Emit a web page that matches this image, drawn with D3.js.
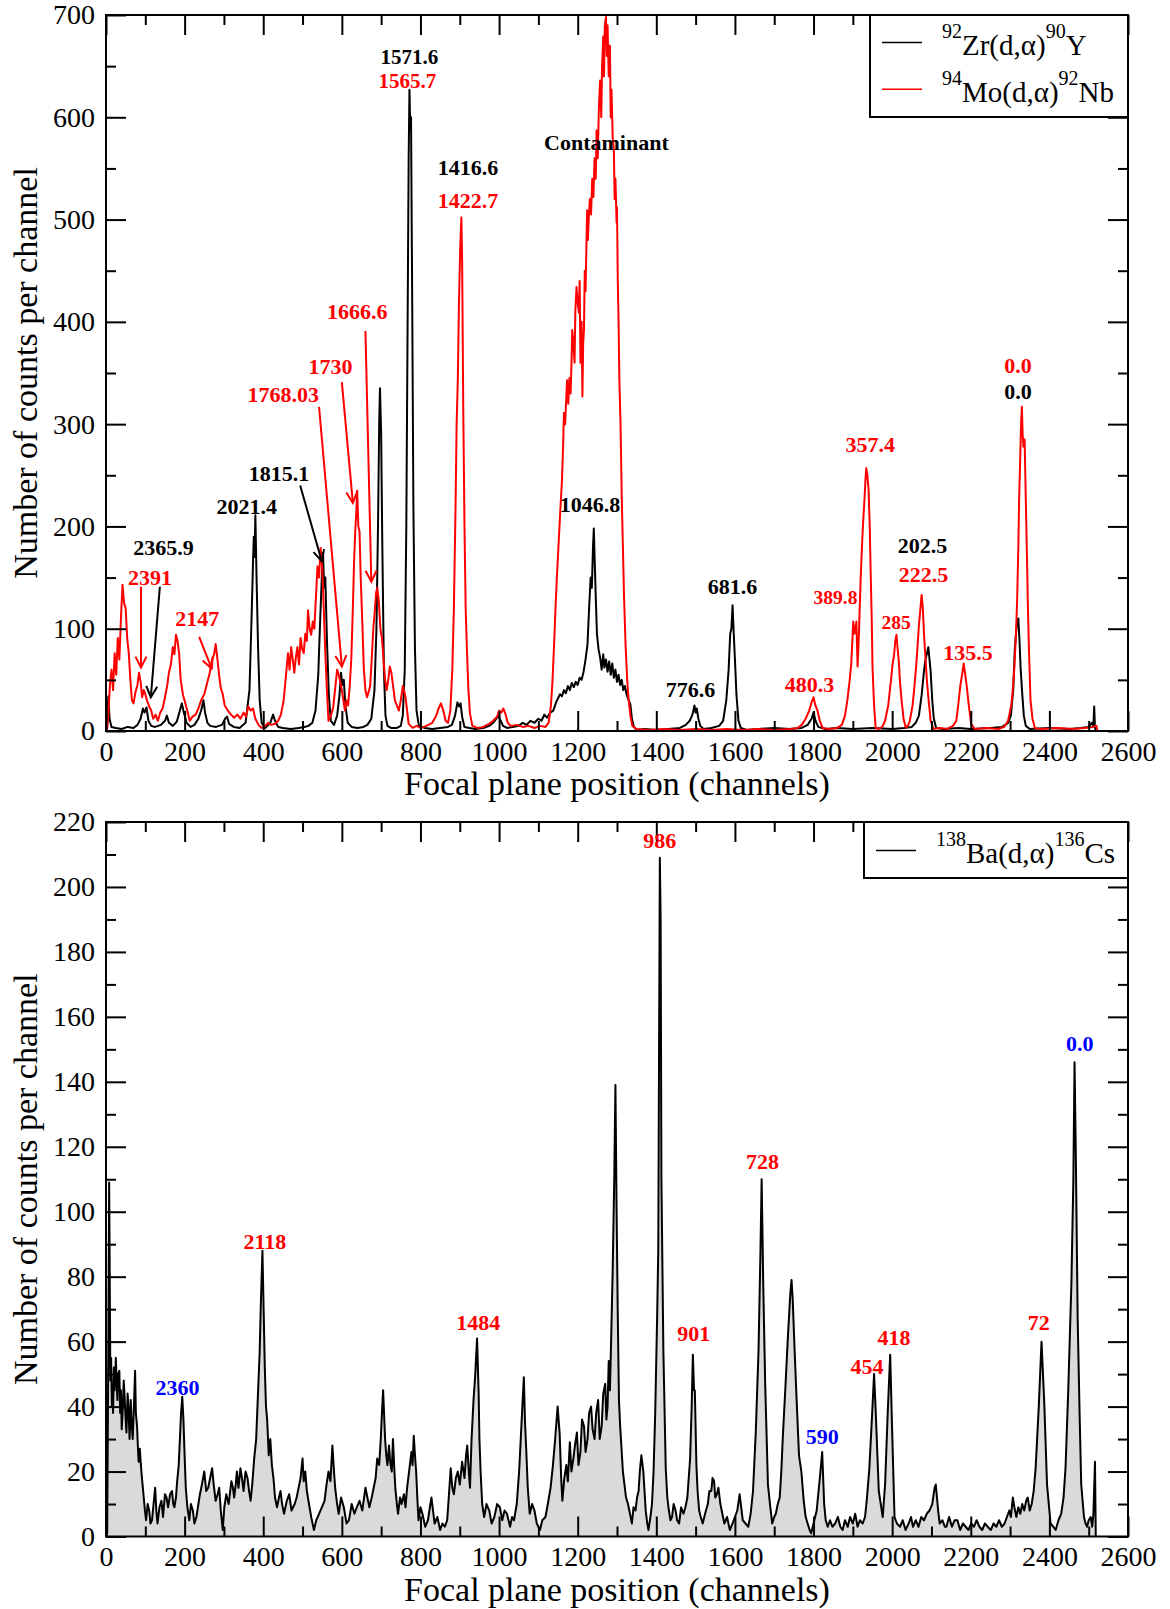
<!DOCTYPE html>
<html>
<head>
<meta charset="utf-8">
<script src="https://d3js.org/d3.v7.min.js"></script>
<style>
  body { margin: 0; background: #fff; }
  svg { display: block; }
</style>
</head>
<body>
<script>
// spectra: [channel, counts]
var zrSpectrum = [[0,0],[3,8],[6,34],[9,12],[14,4],[25,3],[40,2],[55,4],[70,3],[80,6],[88,12],[94,22],[98,18],[103,23],[108,10],[115,5],[125,4],[140,6],[150,10],[155,15],[160,8],[170,5],[180,9],[188,20],[193,27],[198,18],[205,8],[215,4],[225,6],[235,12],[242,20],[248,30],[252,18],[258,8],[265,5],[280,4],[295,6],[303,12],[308,14],[313,7],[325,4],[340,3],[355,8],[365,40],[371,120],[374,165],[376,190],[378,170],[380,211],[383,150],[387,80],[391,30],[396,8],[405,3],[418,8],[425,16],[430,10],[438,4],[450,3],[470,2],[490,3],[505,4],[515,5],[525,8],[533,20],[540,55],[545,110],[549,150],[552,174],[555,140],[558,150],[562,90],[567,35],[572,10],[580,6],[588,15],[594,35],[598,57],[601,45],[605,50],[609,25],[615,8],[625,4],[640,3],[655,4],[665,6],[675,12],[683,40],[688,100],[692,200],[695,300],[697,335],[700,290],[703,180],[707,60],[711,15],[716,5],[725,3],[740,3],[750,5],[755,15],[760,60],[764,200],[767,380],[770,560],[772,627],[774,590],[776,600],[779,420],[782,220],[786,80],[790,20],[796,5],[810,3],[830,2],[850,3],[870,4],[880,6],[888,15],[894,28],[898,24],[902,27],[906,14],[912,4],[925,3],[940,2],[960,3],[975,5],[985,8],[993,12],[998,15],[1004,10],[1010,5],[1020,3],[1035,4],[1050,5],[1060,8],[1070,6],[1080,10],[1090,8],[1100,12],[1108,10],[1115,16],[1122,13],[1130,18],[1138,20],[1145,28],[1150,32],[1155,36],[1160,34],[1165,40],[1170,37],[1175,44],[1180,40],[1185,47],[1190,43],[1195,48],[1200,45],[1205,52],[1210,50],[1215,58],[1220,70],[1225,85],[1229,120],[1233,150],[1236,140],[1239,180],[1241,198],[1243,170],[1246,130],[1249,95],[1253,80],[1257,72],[1261,60],[1265,75],[1268,62],[1272,70],[1276,58],[1280,68],[1284,55],[1288,66],[1292,52],[1296,60],[1300,48],[1304,55],[1308,45],[1312,50],[1316,40],[1320,44],[1325,35],[1330,30],[1334,26],[1338,12],[1343,4],[1350,1],[1370,2],[1400,1],[1430,2],[1460,3],[1475,6],[1485,10],[1492,16],[1497,25],[1500,18],[1503,22],[1507,12],[1512,5],[1520,2],[1540,3],[1560,5],[1570,10],[1578,30],[1584,60],[1588,95],[1591,100],[1594,123],[1597,95],[1600,70],[1604,35],[1609,10],[1615,3],[1630,1],[1660,2],[1700,3],[1740,2],[1770,3],[1785,6],[1795,12],[1800,18],[1805,10],[1812,4],[1830,2],[1860,3],[1900,2],[1950,3],[2000,2],[2030,3],[2050,4],[2060,8],[2068,15],[2075,35],[2080,55],[2084,68],[2088,75],[2092,82],[2095,70],[2098,58],[2102,30],[2106,12],[2112,3],[2130,2],[2170,3],[2200,2],[2250,3],[2280,4],[2295,8],[2302,15],[2308,40],[2312,80],[2315,95],[2318,108],[2321,110],[2324,88],[2327,60],[2331,36],[2335,15],[2340,5],[2350,2],[2400,3],[2450,2],[2480,3],[2500,4],[2508,8],[2512,5],[2514,24],[2516,3],[2520,0]];

var moSpectrum = [[2,0],[5,10],[10,45],[14,60],[18,40],[22,76],[26,55],[30,91],[34,70],[38,110],[42,143],[46,125],[50,120],[54,90],[58,76],[62,50],[66,30],[70,27],[75,38],[80,45],[84,57],[88,48],[92,33],[96,40],[100,36],[104,30],[110,24],[115,20],[120,12],[126,16],[132,10],[138,18],[144,22],[150,33],[156,45],[160,57],[165,65],[170,82],[174,75],[178,94],[182,88],[186,76],[190,50],[196,35],[202,27],[208,18],[213,10],[220,14],[228,16],[235,22],[242,30],[250,36],[258,48],[264,57],[270,70],[275,75],[279,85],[283,72],[287,57],[292,42],[297,36],[302,25],[310,20],[318,16],[326,13],[334,16],[342,12],[350,18],[356,14],[362,24],[368,20],[374,22],[380,12],[388,6],[396,3],[405,5],[412,8],[420,6],[430,7],[438,10],[445,16],[452,30],[458,55],[463,76],[467,60],[471,82],[475,70],[479,57],[483,72],[487,82],[491,65],[495,91],[499,80],[503,76],[507,95],[511,88],[514,118],[518,100],[522,94],[526,107],[530,100],[534,130],[538,161],[542,150],[546,179],[550,160],[554,120],[558,76],[562,40],[566,10],[572,15],[578,23],[584,45],[588,60],[592,55],[596,48],[600,40],[604,30],[608,20],[612,30],[616,25],[620,44],[624,70],[628,120],[631,164],[634,195],[637,215],[639,235],[642,200],[645,195],[648,150],[652,107],[656,60],[660,40],[664,33],[668,38],[672,44],[676,70],[680,100],[684,118],[687,135],[690,140],[694,127],[698,100],[702,91],[706,70],[710,50],[714,40],[718,50],[722,63],[726,57],[730,45],[735,30],[740,25],[745,20],[750,30],[755,44],[758,40],[762,33],[766,20],[770,7],[780,3],[790,5],[800,3],[815,5],[830,8],[840,15],[846,22],[852,27],[858,20],[864,10],[870,8],[876,20],[881,60],[885,120],[889,213],[892,300],[895,343],[898,420],[901,470],[904,502],[906,460],[909,311],[912,200],[915,120],[918,82],[922,40],[926,17],[932,5],[945,3],[960,4],[975,7],[985,10],[995,14],[1000,20],[1006,18],[1011,22],[1016,17],[1022,8],[1030,5],[1045,6],[1060,4],[1075,5],[1090,3],[1105,5],[1118,4],[1126,8],[1132,25],[1136,50],[1140,85],[1143,115],[1147,150],[1151,180],[1155,210],[1160,245],[1163,280],[1165,311],[1168,300],[1171,326],[1173,343],[1176,320],[1179,345],[1182,330],[1185,370],[1186,392],[1189,380],[1192,360],[1194,410],[1197,434],[1200,420],[1203,409],[1205,440],[1207,360],[1210,400],[1212,327],[1214,380],[1216,392],[1218,450],[1220,430],[1222,470],[1224,509],[1226,480],[1228,500],[1231,520],[1234,505],[1237,540],[1240,522],[1243,560],[1246,540],[1248,587],[1251,560],[1254,610],[1257,636],[1260,600],[1262,650],[1265,679],[1267,640],[1269,690],[1272,698],[1274,660],[1276,690],[1279,640],[1282,670],[1284,600],[1286,627],[1289,580],[1292,568],[1294,520],[1296,540],[1299,497],[1300,512],[1302,440],[1304,400],[1306,343],[1309,300],[1312,230],[1315,180],[1318,130],[1322,82],[1326,50],[1329,33],[1334,15],[1339,5],[1350,2],[1380,1],[1420,2],[1460,1],[1500,2],[1540,1],[1580,2],[1620,1],[1660,2],[1700,1],[1740,2],[1760,3],[1770,6],[1780,12],[1789,20],[1795,28],[1800,33],[1804,26],[1810,20],[1816,10],[1823,3],[1840,2],[1860,3],[1872,6],[1880,15],[1886,30],[1892,50],[1896,66],[1899,90],[1901,107],[1904,95],[1907,100],[1909,107],[1912,63],[1915,90],[1917,115],[1920,150],[1924,187],[1927,210],[1930,229],[1932,245],[1934,257],[1937,250],[1940,236],[1943,200],[1945,161],[1948,110],[1950,63],[1954,25],[1958,3],[1965,2],[1975,4],[1982,10],[1990,25],[1996,46],[2001,65],[2005,75],[2008,88],[2011,94],[2014,80],[2017,68],[2020,48],[2024,30],[2029,12],[2035,3],[2041,6],[2045,10],[2052,25],[2057,45],[2061,63],[2065,85],[2068,103],[2072,120],[2075,133],[2078,120],[2081,95],[2085,70],[2089,46],[2094,25],[2098,10],[2105,2],[2120,3],[2140,2],[2155,5],[2163,10],[2168,25],[2174,46],[2178,55],[2182,66],[2186,55],[2190,43],[2195,25],[2201,7],[2210,2],[2240,3],[2270,2],[2285,4],[2295,10],[2303,25],[2308,45],[2311,63],[2315,95],[2318,128],[2321,180],[2323,226],[2326,270],[2328,300],[2330,317],[2332,290],[2334,278],[2337,285],[2340,226],[2343,170],[2345,128],[2348,80],[2352,30],[2357,12],[2363,3],[2380,2],[2420,3],[2460,2],[2490,3],[2510,4],[2520,5],[2522,0]];

var baSpectrum = [[0,0],[3,1],[5,40],[6,60],[8,109],[10,70],[11,48],[13,55],[15,40],[16,47],[18,38],[20,52],[22,45],[25,55],[27,48],[29,42],[31,50],[34,51],[36,38],[38,45],[40,33],[43,40],[45,48],[47,44],[50,36],[52,32],[55,44],[57,40],[60,30],[63,42],[65,35],[68,30],[71,40],[74,51],[76,38],[79,34],[81,28],[83,23],[86,27],[90,20],[93,16],[96,12],[99,8],[102,5],[106,10],[110,8],[113,4],[117,5],[121,10],[125,15],[128,8],[131,4],[136,9],[141,11],[145,6],[150,13],[154,12],[158,9],[163,13],[168,14],[171,10],[174,9],[178,12],[181,17],[185,22],[188,30],[191,38],[194,43],[197,36],[200,25],[203,15],[207,9],[212,5],[216,10],[221,8],[225,4],[230,6],[235,10],[239,13],[244,16],[250,20],[255,14],[260,15],[265,18],[270,21],[274,16],[279,11],[284,13],[288,15],[292,8],[297,2],[301,9],[306,13],[312,10],[319,17],[323,15],[326,12],[330,16],[333,20],[337,15],[342,21],[346,18],[350,14],[355,20],[360,18],[364,14],[368,11],[372,16],[377,24],[382,30],[386,42],[391,57],[394,72],[398,88],[401,70],[404,52],[407,40],[410,36],[414,25],[418,30],[422,22],[426,18],[430,12],[435,9],[440,12],[444,14],[448,10],[453,7],[460,11],[466,13],[472,8],[480,10],[485,12],[490,15],[495,18],[500,24],[503,17],[507,20],[511,14],[515,11],[522,6],[529,2],[535,5],[542,7],[549,9],[556,11],[561,16],[566,20],[571,17],[576,28],[580,20],[583,15],[588,10],[592,7],[598,12],[605,9],[612,4],[618,5],[625,10],[632,7],[638,9],[645,11],[652,8],[660,15],[665,12],[670,9],[676,12],[681,15],[686,18],[690,24],[695,22],[699,30],[702,38],[705,45],[708,36],[710,30],[713,25],[716,22],[720,28],[723,23],[727,20],[730,30],[733,22],[736,15],[740,10],[743,7],[748,12],[752,10],[758,13],[762,9],[766,15],[771,20],[777,26],[780,22],[783,31],[786,25],[789,20],[792,12],[795,5],[800,9],[805,7],[812,3],[819,5],[824,9],[828,12],[832,8],[836,4],[843,6],[850,2],[856,4],[862,3],[868,5],[872,12],[877,21],[881,15],[885,13],[890,18],[895,20],[900,16],[906,23],[912,18],[916,25],[919,28],[923,20],[926,15],[930,30],[935,42],[939,49],[944,61],[948,44],[950,30],[953,20],[957,10],[962,6],[968,10],[975,8],[981,4],[988,6],[995,10],[1002,9],[1008,5],[1014,8],[1020,7],[1028,3],[1033,6],[1038,5],[1045,10],[1051,20],[1058,37],[1063,49],[1066,35],[1069,27],[1073,15],[1078,7],[1084,10],[1090,8],[1096,4],[1104,2],[1110,5],[1118,6],[1124,10],[1131,15],[1137,22],[1142,29],[1149,40],[1152,35],[1154,32],[1158,18],[1161,11],[1166,18],[1171,22],[1175,17],[1180,29],[1184,20],[1189,24],[1193,28],[1198,32],[1202,22],[1207,26],[1211,36],[1216,34],[1220,26],[1225,30],[1229,38],[1234,40],[1238,33],[1243,30],[1247,38],[1252,42],[1256,30],[1261,34],[1265,44],[1270,47],[1273,36],[1276,40],[1279,54],[1282,45],[1285,60],[1289,82],[1293,110],[1296,139],[1299,100],[1302,68],[1305,42],[1308,34],[1311,28],[1315,20],[1319,16],[1323,12],[1328,10],[1333,7],[1338,4],[1342,9],[1347,8],[1351,12],[1355,14],[1358,20],[1362,25],[1365,22],[1367,20],[1370,14],[1373,8],[1377,4],[1380,2],[1385,6],[1389,10],[1393,20],[1397,37],[1402,67],[1405,88],[1407,150],[1409,209],[1411,190],[1413,110],[1418,57],[1424,21],[1428,12],[1432,8],[1436,5],[1440,6],[1444,10],[1449,8],[1453,5],[1458,4],[1463,9],[1469,7],[1474,9],[1479,12],[1486,24],[1490,40],[1493,56],[1496,45],[1498,45],[1502,22],[1505,14],[1509,8],[1513,6],[1518,4],[1524,7],[1531,10],[1535,14],[1540,14],[1543,18],[1547,17],[1550,12],[1554,13],[1558,15],[1563,10],[1568,7],[1573,4],[1580,6],[1587,2],[1594,4],[1600,6],[1606,8],[1612,13],[1616,9],[1620,5],[1627,4],[1634,3],[1640,7],[1646,14],[1653,32],[1660,57],[1665,88],[1668,110],[1672,78],[1677,47],[1684,16],[1690,9],[1695,4],[1700,6],[1704,7],[1709,10],[1714,12],[1718,20],[1722,31],[1728,45],[1735,62],[1741,75],[1744,79],[1747,73],[1752,57],[1757,42],[1763,25],[1769,20],[1775,11],[1780,6],[1785,4],[1790,2],[1794,1],[1800,4],[1804,6],[1808,8],[1816,18],[1822,26],[1827,10],[1831,5],[1836,3],[1842,5],[1848,3],[1855,4],[1862,6],[1868,3],[1874,2],[1880,5],[1887,3],[1893,6],[1900,4],[1906,7],[1912,3],[1918,5],[1925,4],[1931,6],[1936,12],[1942,21],[1950,40],[1954,50],[1958,39],[1966,14],[1976,6],[1982,16],[1989,39],[1995,56],[1999,37],[2006,6],[2012,4],[2020,3],[2027,5],[2034,2],[2042,4],[2048,6],[2053,3],[2060,5],[2067,3],[2074,6],[2081,5],[2088,7],[2095,8],[2102,10],[2108,15],[2111,16],[2114,12],[2117,8],[2121,4],[2128,5],[2134,3],[2138,3],[2145,6],[2152,3],[2159,5],[2166,5],[2173,2],[2180,4],[2187,3],[2194,2],[2201,4],[2208,3],[2215,5],[2222,3],[2229,2],[2236,4],[2243,3],[2251,2],[2258,4],[2265,3],[2272,5],[2279,3],[2286,4],[2292,6],[2298,8],[2302,6],[2307,12],[2311,9],[2316,6],[2321,9],[2326,7],[2331,10],[2336,8],[2341,11],[2345,12],[2350,8],[2355,10],[2360,14],[2365,21],[2373,40],[2380,60],[2387,41],[2394,16],[2403,4],[2410,3],[2416,2],[2423,5],[2430,7],[2436,12],[2441,21],[2448,45],[2456,78],[2461,110],[2464,146],[2467,120],[2472,67],[2477,37],[2481,16],[2488,6],[2492,4],[2496,3],[2500,5],[2505,6],[2509,3],[2512,7],[2516,23],[2518,0]];

// tick labels
var channelTicks = [0, 200, 400, 600, 800, 1000, 1200, 1400, 1600, 1800, 2000, 2200, 2400, 2600];
var topCountTicks = [0, 100, 200, 300, 400, 500, 600, 700];
var bottomCountTicks = [0, 20, 40, 60, 80, 100, 120, 140, 160, 180, 200, 220];

// peak labels: [text, channel, counts, group]
var topLabels = [
  ["1571.6", 772, 659, "zr"], ["1565.7", 767, 636, "mo"],
  ["1416.6", 921, 551, "zr"], ["1422.7", 921, 519, "mo"],
  ["Contaminant", 1273, 576, "zr"],
  ["1666.6", 639, 410, "mo"], ["1730", 571, 357, "mo"], ["1768.03", 451, 329, "mo"],
  ["1815.1", 440, 252, "zr"], ["2021.4", 358, 220, "zr"],
  ["2365.9", 146, 180, "zr"], ["2391", 112, 150, "mo"], ["2147", 232, 110, "mo"],
  ["1046.8", 1231, 222, "zr"], ["776.6", 1487, 41, "zr"], ["681.6", 1594, 141, "zr"],
  ["480.3", 1790, 46, "mo"], ["389.8", 1856, 131, "mo"], ["357.4", 1944, 280, "mo"],
  ["285", 2010, 106, "mo"], ["202.5", 2077, 182, "zr"], ["222.5", 2080, 153, "mo"],
  ["135.5", 2193, 77, "mo"], ["0.0", 2320, 358, "mo"], ["0.0", 2320, 332, "zr"]
];
// arrows: [fromChannel, fromCounts, toChannel, toCounts, group]
var topArrows = [
  [89, 141, 89, 62, "mo"],
  [137, 141, 114, 33, "zr"],
  [237, 92, 269, 61, "mo"],
  [494, 240, 549, 166, "zr"],
  [542, 317, 600, 63, "mo"],
  [600, 341, 628, 223, "mo"],
  [660, 391, 675, 146, "mo"]
];
var bottomLabels = [
  ["2360", 182, 46, "blue"], ["2118", 404, 91, "red"], ["1484", 947, 66, "red"],
  ["986", 1409, 214.5, "red"], ["901", 1495, 62.6, "red"], ["728", 1670, 115.6, "red"],
  ["590", 1822, 30.7, "blue"], ["454", 1936, 52.5, "red"], ["418", 2005, 61.3, "red"],
  ["72", 2373, 66, "red"], ["0.0", 2477, 152, "blue"]
];

var svgWidth = 1170;
var svgHeight = 1609;
var serif = "'Liberation Serif', 'Times New Roman', Times, serif";
var groupColor = { zr: "#000", mo: "#ff0000", red: "#ff0000", blue: "#0000ff" };
var smallLabels = ["389.8", "285"];
var tightLabels = ["1571.6", "1565.7"];

var svg = d3.select("body")
  .append("svg")
  .attr("width", svgWidth)
  .attr("height", svgHeight);

var defs = svg.append("defs");
["zr", "mo"].forEach(function(g) {
  defs.append("marker")
    .attr("id", "head-" + g)
    .attr("viewBox", "-12 -7 14 14")
    .attr("refX", 0)
    .attr("refY", 0)
    .attr("markerUnits", "userSpaceOnUse")
    .attr("markerWidth", 14)
    .attr("markerHeight", 14)
    .attr("orient", "auto")
    .append("path")
    .attr("d", "M-11,-5.5L0,0L-11,5.5")
    .attr("fill", "none")
    .attr("stroke", groupColor[g])
    .attr("stroke-width", 2);
});

function drawPanel(p) {
  var x = d3.scaleLinear().domain([0, 2600]).range([p.left, p.right]);
  var y = d3.scaleLinear().domain([0, p.yMax]).range([p.bottom, p.top]);
  var g = svg.append("g");

  defs.append("clipPath").attr("id", p.id + "-clip")
    .append("rect")
    .attr("x", p.left).attr("y", p.top)
    .attr("width", p.right - p.left).attr("height", p.bottom - p.top);

  var plot = g.append("g").attr("clip-path", "url(#" + p.id + "-clip)");
  p.series.forEach(function(s) {
    if (s.fill) {
      plot.append("path")
        .datum(s.data)
        .attr("fill", s.fill)
        .attr("d", d3.area().x(d => x(d[0])).y0(y(0)).y1(d => y(d[1])));
    }
    plot.append("path")
      .datum(s.data)
      .attr("fill", "none")
      .attr("stroke", s.color)
      .attr("stroke-width", s.width)
      .attr("stroke-linejoin", "round")
      .attr("d", d3.line().x(d => x(d[0])).y(d => y(d[1])));
  });

  // inward ticks on all four sides, labels only bottom and left
  var xMinor = d3.range(100, 2600, 200);
  var yMinor = d3.range(p.yMinor, p.yMax, p.yMinor * 2);
  function styleAxis(sel) {
    sel.select(".domain").remove();
    sel.selectAll("line").attr("stroke", "#000").attr("stroke-width", 2);
    sel.attr("font-family", serif).attr("font-size", 28);
    sel.selectAll("text").attr("fill", "#000");
  }
  g.append("g").attr("transform", `translate(0,${p.bottom})`)
    .call(d3.axisBottom(x).tickValues(channelTicks).tickFormat(d3.format("d"))
      .tickSizeInner(-20).tickSizeOuter(0).tickPadding(10))
    .call(styleAxis);
  g.append("g").attr("transform", `translate(0,${p.bottom})`)
    .call(d3.axisBottom(x).tickValues(xMinor).tickSize(-10).tickFormat(""))
    .call(styleAxis);
  g.append("g").attr("transform", `translate(0,${p.top})`)
    .call(d3.axisTop(x).tickValues(channelTicks).tickSize(-20).tickFormat(""))
    .call(styleAxis);
  g.append("g").attr("transform", `translate(0,${p.top})`)
    .call(d3.axisTop(x).tickValues(xMinor).tickSize(-10).tickFormat(""))
    .call(styleAxis);
  g.append("g").attr("transform", `translate(${p.left},0)`)
    .call(d3.axisLeft(y).tickValues(p.yTicks).tickFormat(d3.format("d"))
      .tickSizeInner(-20).tickSizeOuter(0).tickPadding(11))
    .call(styleAxis);
  g.append("g").attr("transform", `translate(${p.left},0)`)
    .call(d3.axisLeft(y).tickValues(yMinor).tickSize(-10).tickFormat(""))
    .call(styleAxis);
  g.append("g").attr("transform", `translate(${p.right},0)`)
    .call(d3.axisRight(y).tickValues(p.yTicks).tickSize(-20).tickFormat(""))
    .call(styleAxis);
  g.append("g").attr("transform", `translate(${p.right},0)`)
    .call(d3.axisRight(y).tickValues(yMinor).tickSize(-10).tickFormat(""))
    .call(styleAxis);

  g.append("rect")
    .attr("x", p.left).attr("y", p.top)
    .attr("width", p.right - p.left).attr("height", p.bottom - p.top)
    .attr("fill", "none").attr("stroke", "#000").attr("stroke-width", 2);

  // axis titles
  g.append("text")
    .attr("x", (p.left + p.right) / 2)
    .attr("y", p.bottom + 64)
    .attr("text-anchor", "middle")
    .attr("font-family", serif).attr("font-size", 34)
    .text("Focal plane position (channels)");
  g.append("text")
    .attr("transform", `translate(37,${(p.top + p.bottom) / 2}) rotate(-90)`)
    .attr("text-anchor", "middle")
    .attr("font-family", serif).attr("font-size", 34)
    .text("Number of counts per channel");

  // legend
  var lg = g.append("g");
  lg.append("rect")
    .attr("x", p.legend.x).attr("y", p.top)
    .attr("width", p.right - p.legend.x).attr("height", p.legend.h)
    .attr("fill", "#fff").attr("stroke", "#000").attr("stroke-width", 2);
  p.legend.rows.forEach(function(r, i) {
    var base = p.top + p.legend.first + i * 46.7;
    lg.append("line")
      .attr("x1", p.legend.x + 12).attr("x2", p.legend.x + 52)
      .attr("y1", base - 12.5).attr("y2", base - 12.5)
      .attr("stroke", r.color).attr("stroke-width", 1.5);
    var t = lg.append("text")
      .attr("x", p.legend.x + 72).attr("y", base)
      .attr("font-family", serif).attr("font-size", 29).attr("fill", "#000");
    r.parts.forEach(function(part, j) {
      var sup = j % 2 === 0;
      t.append("tspan")
        .attr("font-size", sup ? 20 : 29)
        .attr("dy", j === 0 ? -17 : (sup ? -17 : 17))
        .text(part);
    });
  });

  return { g: g, x: x, y: y };
}

function labelSize(d) {
  if (smallLabels.indexOf(d[0]) >= 0) return 19.5;
  if (tightLabels.indexOf(d[0]) >= 0) return 21;
  return 22;
}

function drawLabels(panel, labels) {
  panel.g.selectAll(null)
    .data(labels)
    .enter()
    .append("text")
    .attr("x", d => panel.x(d[1]))
    .attr("y", d => panel.y(d[2]))
    .attr("dy", "0.35em")
    .attr("text-anchor", "middle")
    .attr("font-family", serif)
    .attr("font-weight", "bold")
    .attr("font-size", labelSize)
    .attr("fill", d => groupColor[d[3]])
    .text(d => d[0]);
}

var topPanel = drawPanel({
  id: "toppanel", left: 106, right: 1128, top: 15, bottom: 731,
  yMax: 700, yTicks: topCountTicks, yMinor: 50,
  series: [
    { data: zrSpectrum, color: "#000", width: 2 },
    { data: moSpectrum, color: "#ff0000", width: 2 }
  ],
  legend: {
    x: 870, h: 102, first: 40,
    rows: [
      { color: "#000", parts: ["92", "Zr(d,\u03b1)", "90", "Y"] },
      { color: "#ff0000", parts: ["94", "Mo(d,\u03b1)", "92", "Nb"] }
    ]
  }
});

topPanel.g.selectAll(".arrow")
  .data(topArrows)
  .enter()
  .append("line")
  .attr("class", "arrow")
  .attr("x1", d => topPanel.x(d[0])).attr("y1", d => topPanel.y(d[1]))
  .attr("x2", d => topPanel.x(d[2])).attr("y2", d => topPanel.y(d[3]))
  .attr("stroke", d => groupColor[d[4]])
  .attr("stroke-width", 2)
  .attr("marker-end", d => "url(#head-" + d[4] + ")");
drawLabels(topPanel, topLabels);

var bottomPanel = drawPanel({
  id: "bottompanel", left: 106, right: 1128, top: 822, bottom: 1536.5,
  yMax: 220, yTicks: bottomCountTicks, yMinor: 10,
  series: [
    { data: baSpectrum, color: "#000", width: 2, fill: "#dadada" }
  ],
  legend: {
    x: 864, h: 56, first: 41,
    rows: [
      { color: "#000", parts: ["138", "Ba(d,\u03b1)", "136", "Cs"] }
    ]
  }
});
drawLabels(bottomPanel, bottomLabels);
</script>
</body>
</html>
